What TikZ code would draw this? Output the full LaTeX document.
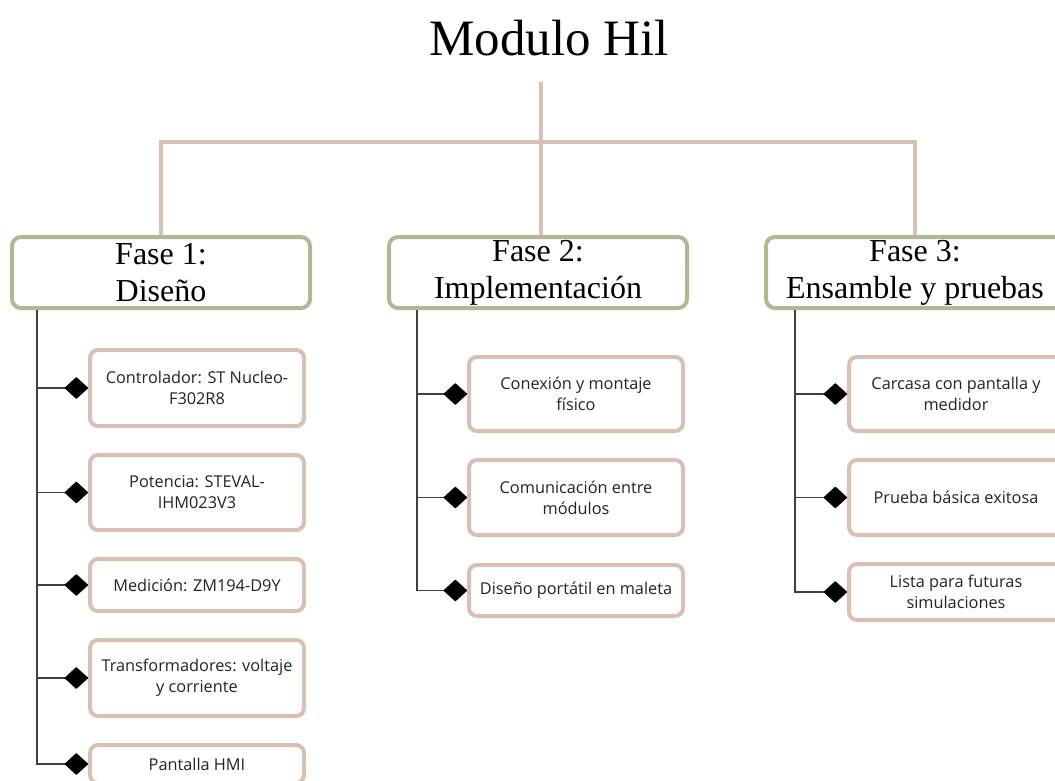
\documentclass[tikz,border=0pt]{standalone}
\usepackage{fontspec}
\setmainfont{Liberation Serif}
\newfontfamily\boxfont{Open Sans}
\usetikzlibrary{arrows.meta,shapes.geometric}
\definecolor{tanc}{RGB}{216,193,180}
\definecolor{sage}{RGB}{178,184,150}
\definecolor{txt}{RGB}{35,35,35}
\begin{document}
\begin{tikzpicture}[x=1pt,y=-1pt,
  phase/.style={draw=sage,line width=4pt,rounded corners=9pt,fill=white,
    minimum width=298pt,minimum height=71pt,align=center,inner sep=0pt,
    font=\fontsize{32}{37}\selectfont},
  item/.style={draw=tanc,line width=4pt,rounded corners=8pt,fill=white,
    minimum width=214pt,align=center,inner sep=0pt,text=txt,
    font=\boxfont\fontsize{16.3}{21}\selectfont},
  trunk/.style={tanc,line width=4pt},
  branch/.style={draw=black!75,line width=1.4pt,
    -{Diamond[length=24pt,width=22pt,round,color=black]}},
]
\useasboundingbox (0,0) rectangle (1055,781);
\fill[white] (0,0) rectangle (1055,781);
\clip (0,0) rectangle (1055,781);

% title
\node[font=\fontsize{51}{60}\selectfont, inner sep=0pt] (title) at (549,38) {Modulo Hil};
\coordinate (top) at (541,82);
\coordinate (bar) at (541,142);

% phases
\node[phase] (f1) at (161,272.5) {Fase 1:\\Diseño};
\node[phase] (f2) at (538,272.5) {Fase 2:\\Implementación};
\node[phase] (f3) at (915,272.5) {Fase 3:\\Ensamble y pruebas};

% trunk lines
\draw[trunk] (top) -- (top |- f2.north);
\draw[trunk] (f1.north) |- (bar) -| (f3.north);

% phase 1 items
\node[item, minimum height=76pt] (c11) at (197,388) {Controlador: ST Nucleo-\\F302R8};
\node[item, minimum height=75pt] (c12) at (197,492.5) {Potencia: STEVAL-\\IHM023V3};
\node[item, minimum height=52pt] (c13) at (197,585) {Medición: ZM194-D9Y};
\node[item, minimum height=76pt] (c14) at (197,678) {Transformadores: voltaje\\y corriente};
\node[item, minimum height=38pt] (c15) at (197,764) {Pantalla HMI};

% phase 2 items
\node[item, minimum height=74pt] (c21) at (576,394) {Conexión y montaje\\físico};
\node[item, minimum height=75pt] (c22) at (576,497.5) {Comunicación entre\\módulos};
\node[item, minimum height=51pt] (c23) at (576,590.5) {Diseño portátil en maleta};

% phase 3 items
\node[item, minimum height=74pt] (c31) at (956,394) {Carcasa con pantalla y\\medidor};
\node[item, minimum height=75pt] (c32) at (956,497.5) {Prueba básica exitosa};
\node[item, minimum height=56pt] (c33) at (956,592) {Lista para futuras\\simulaciones};

% spines
\coordinate (s1) at (37,0);
\coordinate (s2) at (417,0);
\coordinate (s3) at (795,0);

\draw[branch] (f1.south -| s1) |- (c15.west);
\draw[branch] (c11.west -| s1) -- (c11.west);
\draw[branch] (c12.west -| s1) -- (c12.west);
\draw[branch] (c13.west -| s1) -- (c13.west);
\draw[branch] (c14.west -| s1) -- (c14.west);

\draw[branch] (f2.south -| s2) |- (c23.west);
\draw[branch] (c21.west -| s2) -- (c21.west);
\draw[branch] (c22.west -| s2) -- (c22.west);

\draw[branch] (f3.south -| s3) |- (c33.west);
\draw[branch] (c31.west -| s3) -- (c31.west);
\draw[branch] (c32.west -| s3) -- (c32.west);
\end{tikzpicture}
\end{document}
